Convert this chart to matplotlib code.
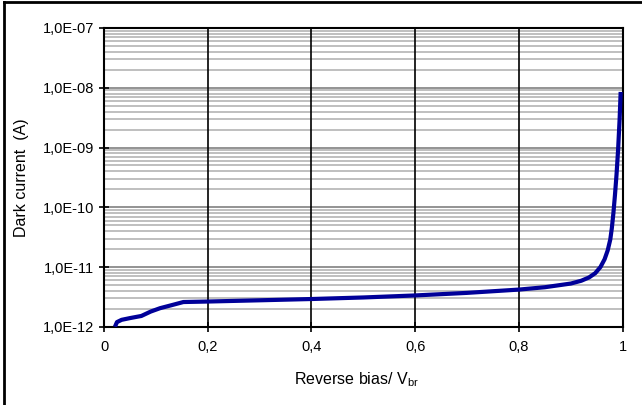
import numpy as np
import matplotlib
matplotlib.use("Agg")
import matplotlib.pyplot as plt
from matplotlib.ticker import FixedLocator, FuncFormatter, NullFormatter
from matplotlib.lines import Line2D

plt.rcParams['font.family'] = ['Liberation Sans', 'DejaVu Sans']

# dark current vs normalised reverse bias
bias = [0.021, 0.025, 0.034, 0.05, 0.072, 0.09, 0.108, 0.13, 0.153, 0.2, 0.3,
        0.4, 0.5, 0.6, 0.7, 0.8, 0.85, 0.9, 0.92, 0.935, 0.947, 0.957, 0.965,
        0.971, 0.976, 0.979, 0.982, 0.985, 0.988, 0.991, 0.994, 0.996]
current = [1.0e-12, 1.2e-12, 1.31e-12, 1.4e-12, 1.52e-12, 1.8e-12, 2.05e-12,
           2.3e-12, 2.6e-12, 2.65e-12, 2.78e-12, 2.92e-12, 3.1e-12, 3.35e-12,
           3.7e-12, 4.2e-12, 4.6e-12, 5.3e-12, 5.9e-12, 6.7e-12, 7.9e-12,
           1.0e-11, 1.35e-11, 1.9e-11, 2.9e-11, 4.5e-11, 8e-11, 1.6e-10,
           3.5e-10, 9e-10, 3e-9, 8.5e-9]

xticks = [0, 0.2, 0.4, 0.6, 0.8, 1]
xlabels = ["0", "0,2", "0,4", "0,6", "0,8", "1"]
decades = [1e-12, 1e-11, 1e-10, 1e-9, 1e-8, 1e-7]

fig = plt.figure(figsize=(6.42, 4.05), dpi=100)
ax = fig.add_axes([0.162, 0.193, 0.808, 0.738])

minors = [m * d for d in decades[:-1] for m in range(2, 10)]
for v in minors:
    ax.axhline(v, color="#b4b4b4", lw=1.2, zorder=0)
for v in decades[1:-1]:
    ax.axhline(v, color="#808080", lw=1.2, zorder=0)
for v in xticks[1:-1]:
    ax.axvline(v, color="black", lw=1.2, zorder=1)

ax.plot(bias, current, color="#000099", lw=3, zorder=3,
        solid_capstyle="butt", solid_joinstyle="round")

ax.set_yscale("log")
ax.set_ylim(1e-12, 1e-7)
ax.set_xlim(0, 1)
ax.yaxis.set_major_locator(FixedLocator(decades))
ax.yaxis.set_minor_locator(FixedLocator([]))
ax.yaxis.set_minor_formatter(NullFormatter())
ax.yaxis.set_major_formatter(FuncFormatter(
    lambda v, p: "1,0E-%02d" % round(-np.log10(v))))
ax.set_xticks(xticks)
ax.set_xticklabels(xlabels)
ax.tick_params(axis="both", direction="inout", length=7, width=1.2,
               labelsize=10.5, colors="black")
ax.tick_params(axis="x", pad=6)
for s in ax.spines.values():
    s.set_linewidth(1.5)
    s.set_color("black")

ax.set_ylabel("Dark current  (A)", fontsize=11.5, labelpad=10)
ax.set_xlabel("Reverse bias/ V$_{\\mathregular{br}}$", fontsize=11.5, labelpad=12)
ax.xaxis.label.set_x(0.487)

fig.add_artist(Line2D([0.0055, 0.0055], [0, 0.995], color="black", lw=2,
                      transform=fig.transFigure))
fig.add_artist(Line2D([0.0055, 1], [0.995, 0.995], color="black", lw=2,
                      transform=fig.transFigure))

fig.savefig("out.png", dpi=100)
